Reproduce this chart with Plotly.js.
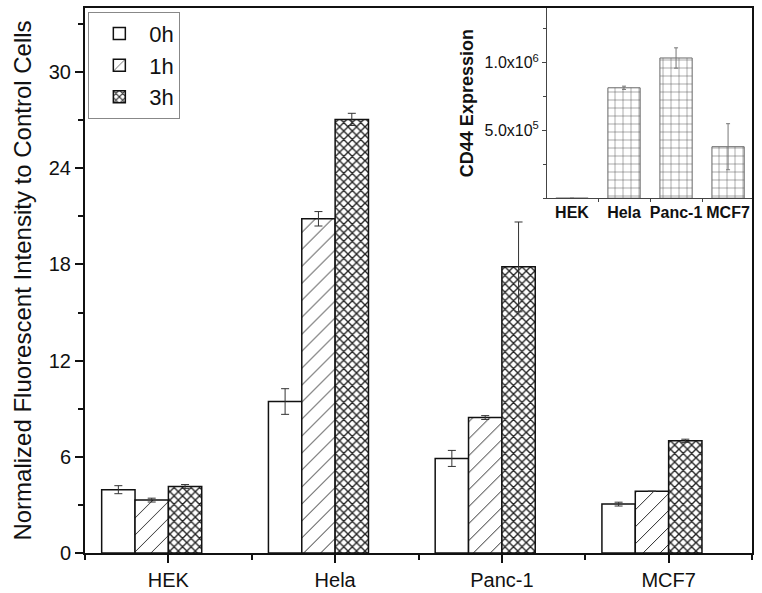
<!DOCTYPE html>
<html>
<head>
<meta charset="utf-8">
<script src="https://cdn.plot.ly/plotly-3.0.1.min.js"></script>
<style>body { margin: 0; background: #fff; }</style>
</head>
<body>
<div id="plot" style="width:762px;height:593px;"></div>
<script>
// cell lines and measured values
var cells = ["HEK", "Hela", "Panc-1", "MCF7"];
var h0 = [3.95, 9.45, 5.9, 3.05];
var h0Err = [0.25, 0.8, 0.5, 0.12];
var h1 = [3.3, 20.85, 8.45, 3.85];
var h1Err = [0.12, 0.45, 0.12, 0];
var h3 = [4.15, 27.05, 17.85, 7.0];
var h3Err = [0.12, 0.38, 2.8, 0.1];

// inset: CD44 expression
var cd44 = [0, 8.15e5, 1.035e6, 3.8e5];
var cd44Err = [0, 1.2e4, 7.5e4, 1.7e5];
var cd44TickVals = [5e5, 1e6];
var cd44TickText = ["5.0x10<sup>5</sup>", "1.0x10<sup>6</sup>"];

var idx = cells.map(function (c, i) { return i; });
var font = "Liberation Sans, Arial, sans-serif";

function errs(arr) {
  return { type: "data", array: arr, visible: true, color: "#333", thickness: 1, width: 4 };
}

var trace0 = {
  x: idx, y: h0, type: "bar", name: "0h",
  width: 0.2, offset: -0.4,
  marker: { color: "white", line: { color: "#111", width: 1.5 } },
  error_y: errs(h0Err)
};

var trace1 = {
  x: idx, y: h1, type: "bar", name: "1h",
  width: 0.2, offset: -0.2,
  marker: {
    color: "white",
    line: { color: "#111", width: 1.5 },
    pattern: { shape: "/", size: 12, solidity: 0.08, fgcolor: "#222", bgcolor: "white" }
  },
  error_y: errs(h1Err)
};

var trace3 = {
  x: idx, y: h3, type: "bar", name: "3h",
  width: 0.2, offset: 0,
  marker: {
    color: "white",
    line: { color: "#111", width: 1.5 },
    pattern: { shape: "x", size: 6, solidity: 0.4, fgcolor: "#222", bgcolor: "white" }
  },
  error_y: errs(h3Err)
};

var inset = {
  x: idx, y: cd44, type: "bar", name: "CD44",
  xaxis: "x2", yaxis: "y2", width: 0.62, showlegend: false,
  marker: {
    color: "white",
    line: { color: "#666", width: 1 },
    pattern: { shape: "+", size: 8, solidity: 0.12, fgcolor: "#555", bgcolor: "white" }
  },
  error_y: { type: "data", array: cd44Err, visible: true, color: "#777", thickness: 1, width: 2 }
};

var data = [trace0, trace1, trace3, inset];

var layout = {
  width: 762, height: 593,
  margin: { l: 85, r: 10, t: 8, b: 40 },
  paper_bgcolor: "white", plot_bgcolor: "white",
  font: { family: font, color: "#111" },
  showlegend: true,
  legend: {
    x: 0.005, y: 0.993, xanchor: "left", yanchor: "top",
    bordercolor: "#888", borderwidth: 1, bgcolor: "white",
    font: { size: 22, family: font },
    itemwidth: 50
  },
  xaxis: {
    domain: [0, 1], range: [-0.5, 3.5],
    tickvals: idx, ticktext: cells,
    ticks: "outside", ticklen: 8, tickwidth: 2, tickcolor: "#111",
    minor: { tick0: 0.5, dtick: 1, ticks: "outside", ticklen: 5, tickwidth: 2, tickcolor: "#111" },
    showline: true, linewidth: 2, linecolor: "#111", mirror: true,
    showgrid: false, zeroline: false,
    tickfont: { size: 20, family: font }
  },
  yaxis: {
    range: [0, 34], dtick: 6, tick0: 0,
    ticks: "outside", ticklen: 8, tickwidth: 2, tickcolor: "#111",
    minor: { tick0: 3, dtick: 6, ticks: "outside", ticklen: 5, tickwidth: 2, tickcolor: "#111" },
    showline: true, linewidth: 2, linecolor: "#111", mirror: true,
    showgrid: false, zeroline: false,
    tickfont: { size: 20, family: font },
    title: { text: "Normalized Fluorescent Intensity to Control Cells", font: { size: 24, family: font }, standoff: 10 }
  },
  xaxis2: {
    domain: [0.6927, 1], anchor: "y2", range: [-0.48, 3.46],
    tickvals: idx, ticktext: cells, tickangle: 0,
    ticks: "", showline: true, linewidth: 1, linecolor: "#444",
    minor: { tick0: 0.5, dtick: 1, ticks: "outside", ticklen: 3, tickwidth: 1, tickcolor: "#444" },
    showgrid: false, zeroline: false,
    tickfont: { size: 16, family: font, weight: "bold" }
  },
  yaxis2: {
    domain: [0.651, 1], anchor: "x2", range: [0, 1.404e6],
    tickvals: cd44TickVals, ticktext: cd44TickText,
    ticks: "outside", ticklen: 4, tickwidth: 1, tickcolor: "#444",
    minor: { tick0: 0, dtick: 2.5e5, ticks: "outside", ticklen: 3, tickwidth: 1, tickcolor: "#444" },
    showline: true, linewidth: 1, linecolor: "#444",
    showgrid: false, zeroline: false,
    tickfont: { size: 16, family: font },
    title: { text: "CD44 Expression", font: { size: 18, family: font, weight: "bold" }, standoff: 6 }
  }
};

Plotly.newPlot("plot", data, layout, { displayModeBar: false });
</script>
</body>
</html>
